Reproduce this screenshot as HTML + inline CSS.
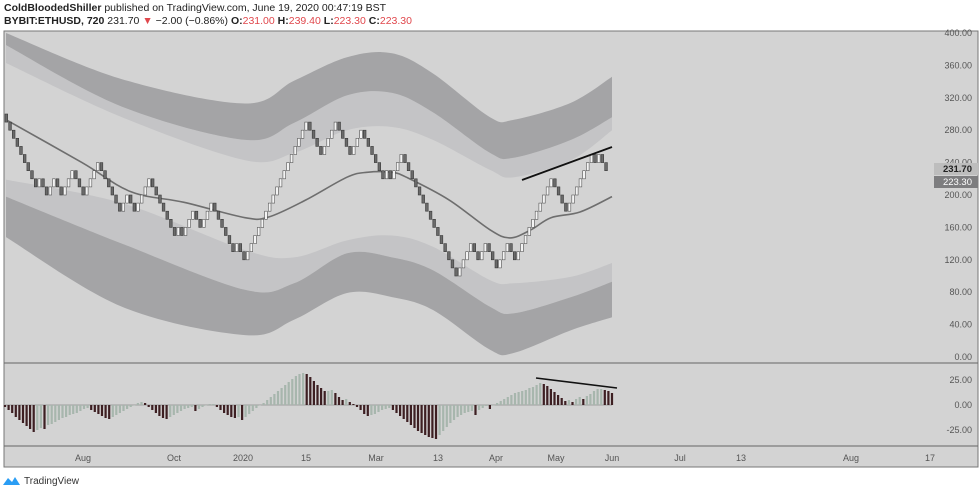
<!DOCTYPE html>
<html><head><meta charset="utf-8"><style>
body{margin:0;background:#fff;width:980px;height:494px;overflow:hidden;font-family:"Liberation Sans",sans-serif}
svg text{font-family:"Liberation Sans",sans-serif}
</style></head><body>
<svg id="c" width="980" height="494" xmlns="http://www.w3.org/2000/svg">
<text x="4" y="11" font-size="10.5" fill="#222"><tspan font-weight="bold">ColdBloodedShiller</tspan> published on TradingView.com, June 19, 2020 00:47:19 BST</text>
<text x="4" y="24" font-size="10.5" fill="#222"><tspan font-weight="bold">BYBIT:ETHUSD, 720</tspan> 231.70 <tspan fill="#e0474c">▼</tspan> −2.00 (−0.86%) <tspan font-weight="bold">O:</tspan><tspan fill="#e0474c">231.00</tspan> <tspan font-weight="bold">H:</tspan><tspan fill="#e0474c">239.40</tspan> <tspan font-weight="bold">L:</tspan><tspan fill="#e0474c">223.30</tspan> <tspan font-weight="bold">C:</tspan><tspan fill="#e0474c">223.30</tspan></text>
<rect x="4" y="31" width="974" height="436" fill="#d3d3d3" stroke="#777" stroke-width="1"/>
<g id="bands"></g><g id="main"></g><g id="osc"></g><g id="axes"></g>
<line x1="4" y1="363" x2="978" y2="363" stroke="#666"/>
<line x1="4" y1="446" x2="978" y2="446" stroke="#666"/>
<g><path d="M3 485 L8 478 L12 482 L15 477 L20 485 Z" fill="#2a9df4"/><text x="24" y="484" font-size="10" fill="#333">TradingView</text></g>
</svg>
<script>
const NS="http://www.w3.org/2000/svg";
const priceTicks=[400,360,320,280,240,200,160,120,80,40,0];
const oscTicks=[25,0,-25];
const timeLabels=["Aug","Oct","2020","15","Mar","13","Apr","May","Jun","Jul","13","Aug","17"];
const timePos=[83,174,243,306,376,438,496,556,612,680,741,851,930];
const bricks=[300,290,280,270,260,250,240,230,220,210,
220,210,200,210,220,210,200,210,220,230,220,210,200,210,220,230,240,
230,220,210,200,190,180,
190,200,190,180,190,200,210,220,
210,200,190,180,170,160,150,
160,150,160,170,180,170,160,170,180,190,
180,170,160,150,140,130,140,130,120,
130,140,150,160,170,180,190,200,210,220,230,240,250,260,270,280,290,
280,270,260,250,260,270,280,290,280,270,260,250,260,270,280,270,260,250,240,230,220,
230,220,230,240,250,240,230,220,
210,200,190,180,170,160,150,140,130,120,110,100,
110,120,130,140,130,120,130,140,130,120,110,120,130,140,130,120,
130,140,150,160,170,180,190,200,210,220,
210,200,190,180,
190,200,210,220,230,240,250,
240,250,240,230];
const maDates=[6,82,131,184,245,269,306,347,367,392,408,449,490,510,531,551,580,612];
const maVals=[293,240,204,191,172,173,194,222,228,228,221,194,157,147,157,172,179,198];
const bandDates=[6,122,245,294,347,392,433,490,514,571,612];
const upOuterTop=[400,343,313,341,370,375,350,296,293,314,346];
const upOuterBot=[385,309,268,289,323,326,302,252,246,268,296];
const upInnerBot=[363,296,243,252,280,284,268,231,222,243,280];
const loInnerTop=[219,190,132,123,144,150,136,95,91,99,116];
const loOuterTop=[198,140,83,91,128,123,107,62,54,74,93];
const loOuterBot=[148,62,27,46,79,74,58,9,5,33,49];
const oscVals=[-2,-5,-8,-12,-15,-18,-21,-24,-27,-25,-23,-24,-20,-19,-17,-15,-13,-12,-10,-9,-8,-6,-4,
-3,-5,-7,-9,-11,-13,-14,-12,-10,-8,-6,-4,-2,0,2,3,2,-2,-5,-8,-11,-13,-14,-12,-10,-8,-6,-4,-3,-2,-6,-4,-2,0,1,1,
-2,-5,-8,-10,-12,-13,-12,-15,-12,-9,-6,-3,0,2,5,8,11,14,17,20,23,26,29,31,32,31,28,24,20,17,14,14,15,12,8,5,6,3,1,
-2,-5,-9,-11,-10,-9,-7,-5,-4,-3,-5,-8,-11,-14,-17,-20,-23,-26,-28,-30,-32,-33,-34,
-30,-26,-22,-18,-15,-12,-10,-8,-7,-6,-10,-5,-3,-1,-4,0,2,4,6,8,10,12,13,14,15,17,18,20,22,
21,19,16,13,10,7,4,5,3,6,8,6,9,11,14,16,16,15,14,12];
const X0=5,X1=612;
const py=p=>357-p*0.81;
const oy=v=>405-v*1.0;
const bx=i=>X0+i*(X1-X0)/(bricks.length);
const ox=i=>X0+i*(X1-X0)/(oscVals.length-1);
function el(t,a,parent){const e=document.createElementNS(NS,t);for(const k in a)e.setAttribute(k,a[k]);parent.appendChild(e);return e;}
const gB=document.getElementById('bands'),gM=document.getElementById('main'),gO=document.getElementById('osc'),gA=document.getElementById('axes');
function smooth(pts,first){
  let d=(first?"M":"L")+pts[0][0]+","+pts[0][1].toFixed(1);
  for(let i=0;i<pts.length-1;i++){
    const p0=pts[Math.max(i-1,0)],p1=pts[i],p2=pts[i+1],p3=pts[Math.min(i+2,pts.length-1)];
    const c1x=p1[0]+(p2[0]-p0[0])/6,c1y=p1[1]+(p2[1]-p0[1])/6,c2x=p2[0]-(p3[0]-p1[0])/6,c2y=p2[1]-(p3[1]-p1[1])/6;
    d+=" C"+c1x.toFixed(1)+","+c1y.toFixed(1)+" "+c2x.toFixed(1)+","+c2y.toFixed(1)+" "+p2[0]+","+p2[1].toFixed(1);
  }
  return d;
}
function band(top,bot,fill,name){
  const tp=bandDates.map((x,i)=>[x,py(top[i])]);
  const bp=bandDates.map((x,i)=>[x,py(bot[i])]).reverse();
  const p=el('path',{d:smooth(tp,true)+" "+smooth(bp,false)+"Z",fill:fill},gB);
  
  
}
band(upOuterBot,upInnerBot,"#c4c4c6","upper-inner-band");
band(upOuterTop,upOuterBot,"#a4a4a6","upper-outer-band");
band(loInnerTop,loOuterTop,"#c4c4c6","lower-inner-band");
band(loOuterTop,loOuterBot,"#a4a4a6","lower-outer-band");
const ma=el('path',{d:smooth(maDates.map((x,i)=>[x,py(maVals[i])]),true),fill:"none",stroke:"#6e6e6e","stroke-width":1.6},gM);


const w=(X1-X0)/bricks.length;
for(let i=1;i<bricks.length;i++){
  const a=bricks[i-1],b=bricks[i],up=b>a;
  const y1=py(Math.max(a,b)),y2=py(Math.min(a,b));
  const r=el('rect',{x:bx(i-1).toFixed(1),y:y1.toFixed(1),width:Math.max(w-1,1.5).toFixed(1),height:(y2-y1).toFixed(1),fill:up?"#f4f4f4":"#6a6a6a",stroke:up?"#555":"#3a3a3a","stroke-width":0.6},gM);
  
  
}
const t1=el('line',{x1:522,y1:180,x2:612,y2:147,stroke:"#111","stroke-width":1.8},gM);


el('line',{x1:X0,y1:oy(0),x2:X1,y2:oy(0),stroke:"#8a8a8a","stroke-width":0.8},gO);
for(let i=0;i<oscVals.length;i++){
  const v=oscVals[i],prev=i>0?oscVals[i-1]:0;
  const dark=v<prev;
  const r=el('rect',{x:(ox(i)-1.1).toFixed(1),y:Math.min(oy(0),oy(v)).toFixed(1),width:2.2,height:Math.max(Math.abs(v),0.5),fill:dark?"#3d1f22":"#a7b6ad"},gO);
  
  
}
const t2=el('line',{x1:536,y1:378,x2:617,y2:388,stroke:"#111","stroke-width":1.6},gO);


priceTicks.forEach(p=>{const t=el('text',{x:972,y:py(p)+3,"font-size":9,fill:"#555","text-anchor":"end"},gA);t.textContent=p.toFixed(2);

});
oscTicks.forEach(v=>{const t=el('text',{x:972,y:oy(v)+3,"font-size":9,fill:"#555","text-anchor":"end"},gA);t.textContent=v.toFixed(2);

});
timeLabels.forEach((s,i)=>{const t=el('text',{x:timePos[i],y:461,"font-size":9,fill:"#555","text-anchor":"middle"},gA);t.textContent=s;

});
const b1=el('rect',{x:934,y:163,width:44,height:12,fill:"#bdbdbd"},gA);


const bt1=el('text',{x:972,y:172,"font-size":9.5,fill:"#222","text-anchor":"end","font-weight":"bold"},gA);bt1.textContent="231.70";


const b2=el('rect',{x:934,y:176,width:44,height:12,fill:"#7d7d7f"},gA);


const bt2=el('text',{x:972,y:185,"font-size":9.5,fill:"#fff","text-anchor":"end"},gA);bt2.textContent="223.30";


</script>
</body></html>
